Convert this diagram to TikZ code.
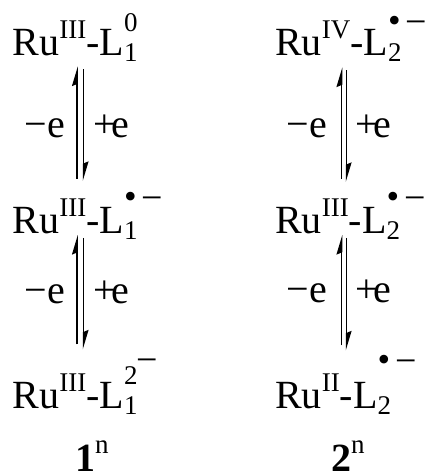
\documentclass[tikz,border=0pt]{standalone}
\usepackage{fontspec}
\setmainfont{Liberation Serif}
\usetikzlibrary{arrows.meta}

\newcommand{\bigsize}{\fontsize{40}{44}\selectfont}
\newcommand{\supsize}{\fontsize{27}{29}\selectfont}
% oxidation state of Ru
\newcommand{\ox}[1]{\raisebox{17pt}{\supsize #1}}
% ligand: charge, index, raise of the charge
\newcommand{\lig}[3]{L\rlap{\raisebox{#3}{\supsize #1}}\raisebox{-6pt}{\supsize #2}}
\newcommand{\rad}{\raisebox{2pt}{\fontsize{36}{36}\selectfont •}\kern5pt{\fontsize{38}{38}\selectfont −}}
\newcommand{\dian}{2\kern-1pt\raisebox{12pt}{\fontsize{38}{38}\selectfont −}}

\begin{document}
\begin{tikzpicture}[x=1pt, y=1pt, >=Stealth]
    \useasboundingbox (0,0) rectangle (428,476);
    \tikzset{
        species/.style={anchor=base west, inner sep=0pt, font=\bigsize},
        elabel/.style={inner sep=0pt, font=\bigsize},
        harp/.style={line width=1.5pt, -{Stealth[harpoon, length=17pt, width=10pt, inset=2pt]}},
    }

    % complex 1
    \node[species] (r11) at (12.5,420.5) {Ru\ox{III}-\lig{0}{1}{24pt}};
    \node[species] (r12) at (12.5,242) {Ru\ox{III}-\lig{\rad}{1}{23pt}};
    \node[species] (r13) at (12.5,67.5) {Ru\ox{III}-\lig{\dian}{1}{24pt}};

    % complex 2
    \node[species] (r21) at (275,420.5) {Ru\ox{IV}-\lig{\rad}{2}{21pt}};
    \node[species] (r22) at (275,242) {Ru\ox{III}-\lig{\rad}{2}{23pt}};
    \node[species] (r23) at (275,67.5) {Ru\ox{II}-\lig{\rad}{2}{35pt}};

    % redox steps
    \draw[harp] ([xshift=64.5pt,yshift=55pt]r12.base west) -- ([xshift=64.5pt,yshift=-11pt]r11.base west);
    \draw[harp] ([xshift=71pt,yshift=-14pt]r11.base west) -- ([xshift=71pt,yshift=53pt]r12.base west);
    \draw[harp] ([xshift=64.5pt,yshift=64pt]r13.base west) -- ([xshift=64.5pt,yshift=-1pt]r12.base west);
    \draw[harp] ([xshift=71pt,yshift=-4pt]r12.base west) -- ([xshift=71pt,yshift=59pt]r13.base west);

    \draw[harp] ([xshift=66.5pt,yshift=55pt]r22.base west) -- ([xshift=66.5pt,yshift=-12pt]r21.base west);
    \draw[harp] ([xshift=71.5pt,yshift=-15pt]r21.base west) -- ([xshift=71.5pt,yshift=52pt]r22.base west);
    \draw[harp] ([xshift=66.5pt,yshift=63pt]r23.base west) -- ([xshift=66.5pt,yshift=-1pt]r22.base west);
    \draw[harp] ([xshift=71.5pt,yshift=-4pt]r22.base west) -- ([xshift=71.5pt,yshift=58pt]r23.base west);

    % electron labels
    \node[elabel, anchor=base east] (m1a) at (65,338) {−e};
    \node[elabel, anchor=base west] (p1a) at (93.5,338) {+\kern-5pt e};
    \node[elabel, anchor=base east] (m1b) at (65,172) {−e};
    \node[elabel, anchor=base west] (p1b) at (93.5,172) {+\kern-5pt e};
    \node[elabel, anchor=base east] (m2a) at (327,338) {−e};
    \node[elabel, anchor=base west] (p2a) at (355.5,338) {+\kern-5pt e};
    \node[elabel, anchor=base east] (m2b) at (327,173) {−e};
    \node[elabel, anchor=base west] (p2b) at (355.5,173) {+\kern-5pt e};

    % compound numbers
    \node[species] (c1) at (75,5) {\textbf{1}\ox{n}};
    \node[species] (c2) at (331,5) {\textbf{2}\ox{n}};
\end{tikzpicture}
\end{document}
